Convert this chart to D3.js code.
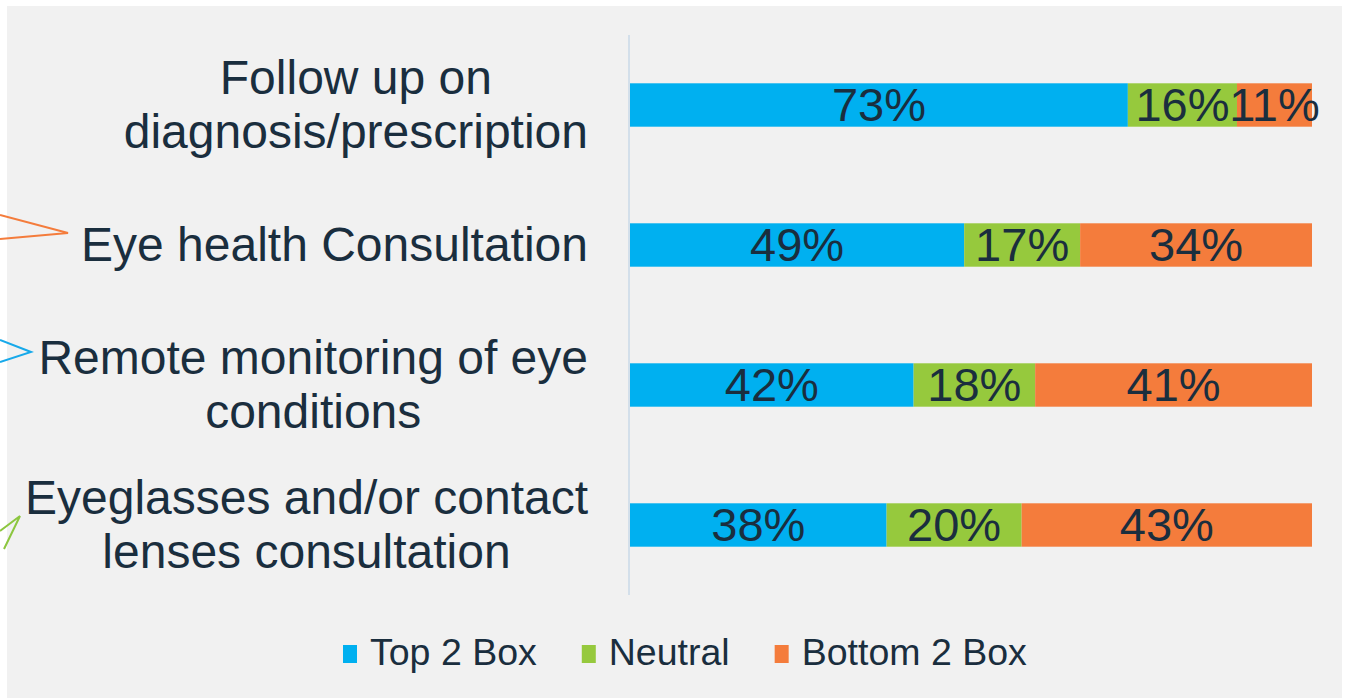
<!DOCTYPE html>
<html>
<head>
<meta charset="utf-8">
<script src="https://cdn.jsdelivr.net/npm/d3@7"></script>
<style>
  html, body { margin: 0; padding: 0; background: #ffffff; }
  svg { display: block; }
  text { font-family: "Liberation Sans", Arial, sans-serif; }
</style>
</head>
<body>
<svg id="chart" width="1346" height="699"></svg>
<script>
// Survey services (each label may break over several lines)
const categories = [
  "Follow up on diagnosis/prescription",
  "Eye health Consultation",
  "Remote monitoring of eye conditions",
  "Eyeglasses and/or contact lenses consultation"
];
const categoryLines = [
  ["Follow up on", "diagnosis/prescription"],
  ["Eye health Consultation"],
  ["Remote monitoring of eye", "conditions"],
  ["Eyeglasses and/or contact", "lenses consultation"]
];

// Response shares (%) per service
const seriesKeys = ["Top 2 Box", "Neutral", "Bottom 2 Box"];
const top2Box    = [73, 49, 42, 38];
const neutral    = [16, 17, 18, 20];
const bottom2Box = [11, 34, 41, 43];

const colors = ["#00b0f0", "#96c93d", "#f47c3c"];
const textColor = "#1a2e3e";

const rows = categories.map((c, i) => ({
  category: c,
  "Top 2 Box": top2Box[i],
  "Neutral": neutral[i],
  "Bottom 2 Box": bottom2Box[i]
}));

const svg = d3.select("#chart");

// Panel background
svg.append("rect")
  .attr("x", 7).attr("y", 6)
  .attr("width", 1335).attr("height", 692)
  .attr("fill", "#f1f1f1");

// Scales
const y = d3.scaleBand()
  .domain(categories)
  .range([35, 595])
  .paddingInner(0.69)
  .paddingOuter(0.345);

const x = d3.scaleLinear().domain([0, 1]).range([630, 1312]);

const color = d3.scaleOrdinal().domain(seriesKeys).range(colors);

// 100% stacked layout
const stacked = d3.stack()
  .keys(seriesKeys)
  .offset(d3.stackOffsetExpand)(rows);

// Category axis line
svg.append("line")
  .attr("x1", 629).attr("x2", 629)
  .attr("y1", y.range()[0]).attr("y2", y.range()[1])
  .attr("stroke", "#c9d9e7")
  .attr("stroke-width", 1.5);

// Bars
const layers = svg.append("g").selectAll("g")
  .data(stacked)
  .join("g")
  .attr("fill", d => color(d.key));

layers.selectAll("rect")
  .data(d => d.map(p => ({ key: d.key, p })))
  .join("rect")
  .attr("x", d => x(d.p[0]))
  .attr("y", d => y(d.p.data.category))
  .attr("width", d => x(d.p[1]) - x(d.p[0]))
  .attr("height", y.bandwidth());

// Value labels centred in each segment
layers.selectAll("text")
  .data(d => d.map(p => ({ key: d.key, p })))
  .join("text")
  .attr("x", d => (x(d.p[0]) + x(d.p[1])) / 2)
  .attr("y", d => y(d.p.data.category) + y.bandwidth() / 2 + 16)
  .attr("text-anchor", "middle")
  .attr("font-size", 47)
  .attr("fill", textColor)
  .text(d => d.p.data[d.key] + "%");

// Category labels: block right-aligned, lines centred within the block
const labelRight = 588;
const lineGap = 54;
const labelG = svg.append("g");
categories.forEach((c, i) => {
  const lines = categoryLines[i];
  const cy = y(c) + y.bandwidth() / 2;
  const g = labelG.append("g");
  const texts = lines.map((ln, j) =>
    g.append("text")
      .attr("font-size", 48)
      .attr("fill", textColor)
      .attr("text-anchor", "middle")
      .attr("y", cy + 16 + (j - (lines.length - 1) / 2) * lineGap)
      .text(ln)
  );
  const maxW = d3.max(texts, t => t.node().getComputedTextLength());
  texts.forEach(t => t.attr("x", labelRight - maxW / 2));
});

// Legend
const legend = svg.append("g");
let lx = 343;
seriesKeys.forEach(k => {
  legend.append("rect")
    .attr("x", lx).attr("y", 645)
    .attr("width", 14).attr("height", 18)
    .attr("fill", color(k));
  const t = legend.append("text")
    .attr("x", lx + 27).attr("y", 665)
    .attr("font-size", 37.5)
    .attr("fill", textColor)
    .text(k);
  lx += 27 + t.node().getComputedTextLength() + 45;
});

// Callout pointers entering from the left edge
const pointers = [
  { c: "#f47c3c", pts: [[0, 215], [68, 233], [0, 239]] },
  { c: "#17a9ea", pts: [[0, 340], [31, 352], [0, 362]] },
  { c: "#8cc63f", pts: [[0, 531], [20, 516], [4, 549]] }
];
pointers.forEach(p => {
  svg.append("path")
    .attr("d", d3.line()(p.pts))
    .attr("fill", "none")
    .attr("stroke", p.c)
    .attr("stroke-width", 2);
});
</script>
</body>
</html>
